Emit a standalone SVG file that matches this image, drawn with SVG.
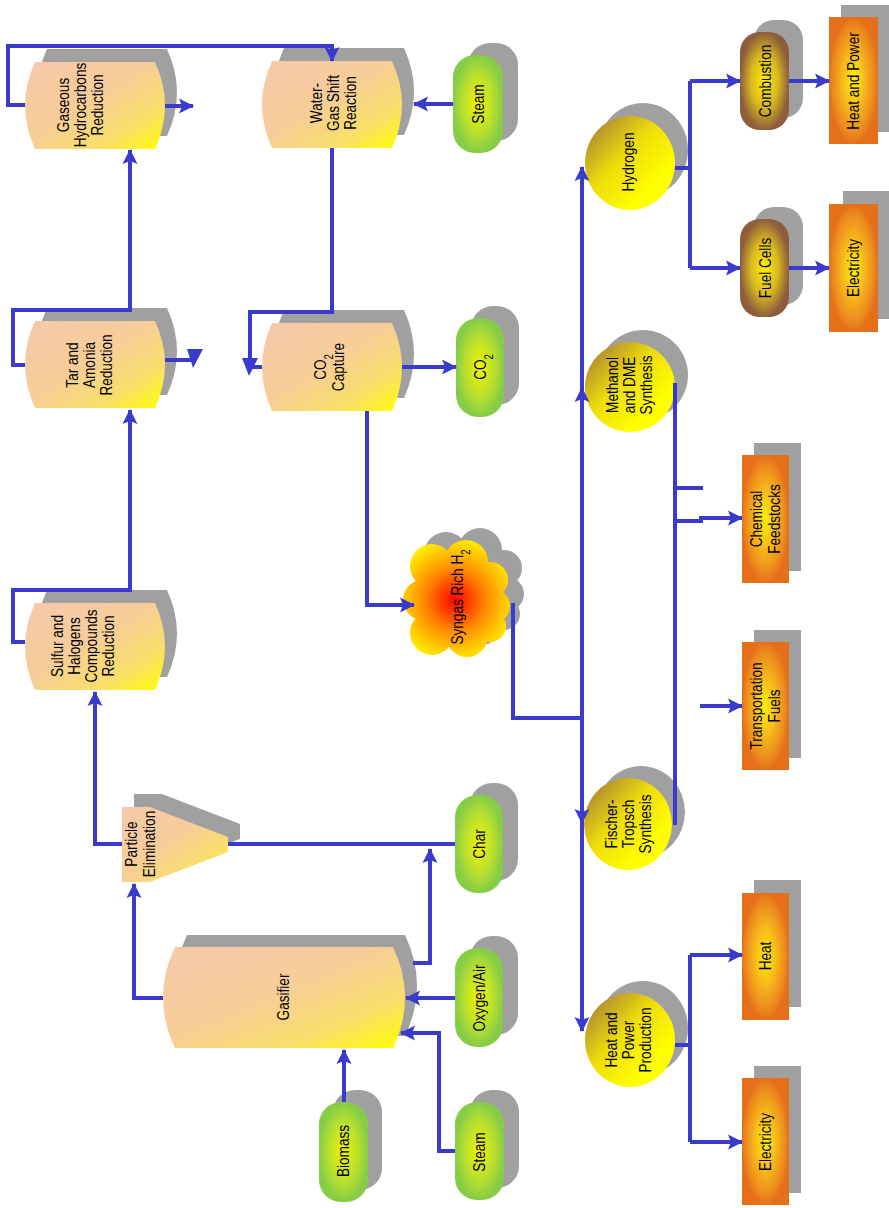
<svg xmlns="http://www.w3.org/2000/svg" width="889" height="1208" viewBox="0 0 889 1208">
  <defs>
    <linearGradient id="tankFill" x1="0" y1="0" x2="1" y2="1">
      <stop offset="0" stop-color="#f6c8ac"/>
      <stop offset="0.45" stop-color="#f7cd98"/>
      <stop offset="0.75" stop-color="#f9df6a"/>
      <stop offset="1" stop-color="#ffff00"/>
    </linearGradient>
    <radialGradient id="greenFill" cx="0.5" cy="0.5" r="0.5">
      <stop offset="0" stop-color="#f2f200"/>
      <stop offset="0.6" stop-color="#b9e02e"/>
      <stop offset="1" stop-color="#86cc46"/>
    </radialGradient>
    <radialGradient id="brownFill" cx="0.5" cy="0.5" r="0.5">
      <stop offset="0" stop-color="#fff000"/>
      <stop offset="0.55" stop-color="#d9b820"/>
      <stop offset="1" stop-color="#8e5e3c"/>
    </radialGradient>
    <radialGradient id="orangeFill" cx="0.5" cy="0.5" r="0.5">
      <stop offset="0" stop-color="#fff000"/>
      <stop offset="0.4" stop-color="#f8c01a"/>
      <stop offset="0.85" stop-color="#ec881e"/>
      <stop offset="1" stop-color="#e6701a"/>
    </radialGradient>
    <linearGradient id="ballFill" x1="0.1" y1="0.1" x2="0.75" y2="0.75">
      <stop offset="0" stop-color="#ae8832"/>
      <stop offset="0.5" stop-color="#eedc0a"/>
      <stop offset="1" stop-color="#ffff00"/>
    </linearGradient>
    <radialGradient id="cloudFill" gradientUnits="userSpaceOnUse" cx="455" cy="600" r="62">
      <stop offset="0" stop-color="#ff0000"/>
      <stop offset="0.5" stop-color="#ff8a00"/>
      <stop offset="1" stop-color="#ffee00"/>
    </radialGradient>
    <marker id="ah" markerUnits="userSpaceOnUse" markerWidth="16" markerHeight="16" viewBox="0 0 16 16" refX="14" refY="8" orient="auto">
      <path d="M0,0.5 L15,8 L0,15.5 L3,8 z" fill="#3a3acc"/>
    </marker>
    <style>
      .sh { fill: #a0a0a0; }
      .tank { fill: url(#tankFill); }
      .green { fill: url(#greenFill); }
      .brown { fill: url(#brownFill); }
      .orange { fill: url(#orangeFill); }
      .ball { fill: url(#ballFill); }
      .t { font-family: "Liberation Sans", Arial, sans-serif; font-size: 17px; fill: #000; text-anchor: middle; }
      .sub { font-size: 12px; }
      .c { fill: none; stroke: #3a3acc; stroke-width: 4; }
      .ca { fill: none; stroke: #3a3acc; stroke-width: 4; marker-end: url(#ah); }
      .hd { fill: #3a3acc; }
    </style>
  </defs>

  <rect width="889" height="1208" fill="#ffffff"/>

  <!-- process vessels -->
  <g id="gaseous-hydrocarbons-reduction">
    <path class="sh" transform="translate(12,-13)" d="M35,62 H155 Q175,105.5 155,149 H35 Q15,105.5 35,62 Z"/>
    <path class="tank" d="M35,62 H155 Q175,105.5 155,149 H35 Q15,105.5 35,62 Z"/>
    <text class="t" transform="translate(80,105) rotate(-90) scale(0.8,1)"><tspan x="0" y="-11.5">Gaseous</tspan><tspan x="0" y="6">Hydrocarbons</tspan><tspan x="0" y="23.5">Reduction</tspan></text>
  </g>

  <g id="water-gas-shift">
    <path class="sh" transform="translate(12,-13)" d="M272,61 H392 Q412,104.5 392,148 H272 Q252,104.5 272,61 Z"/>
    <path class="tank" d="M272,61 H392 Q412,104.5 392,148 H272 Q252,104.5 272,61 Z"/>
    <text class="t" transform="translate(333,103) rotate(-90) scale(0.8,1)"><tspan x="0" y="-11.5">Water-</tspan><tspan x="0" y="6">Gas Shift</tspan><tspan x="0" y="23.5">Reaction</tspan></text>
  </g>

  <g id="tar-amonia-reduction">
    <path class="sh" transform="translate(12,-13)" d="M35,321 H155 Q175,364.5 155,408 H35 Q15,364.5 35,321 Z"/>
    <path class="tank" d="M35,321 H155 Q175,364.5 155,408 H35 Q15,364.5 35,321 Z"/>
    <text class="t" transform="translate(89,365) rotate(-90) scale(0.8,1)"><tspan x="0" y="-11.5">Tar and</tspan><tspan x="0" y="6">Amonia</tspan><tspan x="0" y="23.5">Reduction</tspan></text>
  </g>

  <g id="co2-capture">
    <path class="sh" transform="translate(12,-13)" d="M272,323 H392 Q412,367 392,411 H272 Q252,367 272,323 Z"/>
    <path class="tank" d="M272,323 H392 Q412,367 392,411 H272 Q252,367 272,323 Z"/>
    <text class="t" transform="translate(329,367) rotate(-90) scale(0.8,1)"><tspan x="0" y="-3">CO<tspan class="sub" baseline-shift="sub">2</tspan></tspan><tspan x="0" y="14.5">Capture</tspan></text>
  </g>

  <g id="sulfur-halogens-reduction">
    <path class="sh" transform="translate(12,-13)" d="M35,603 H155 Q175,646.5 155,690 H35 Q15,646.5 35,603 Z"/>
    <path class="tank" d="M35,603 H155 Q175,646.5 155,690 H35 Q15,646.5 35,603 Z"/>
    <text class="t" transform="translate(83,646) rotate(-90) scale(0.8,1)"><tspan x="0" y="-20">Sulfur and</tspan><tspan x="0" y="-3">Halogens</tspan><tspan x="0" y="14">Compounds</tspan><tspan x="0" y="31">Reduction</tspan></text>
  </g>

  <g id="particle-elimination">
    <path class="sh" transform="translate(12,-13)" d="M122,807 H150 L228,837 V852 L150,882 H122 Z"/>
    <path class="tank" d="M122,807 H150 L228,837 V852 L150,882 H122 Z"/>
    <text class="t" transform="translate(140,844) rotate(-90) scale(0.8,1)"><tspan x="0" y="-3">Particle</tspan><tspan x="0" y="14.5">Elimination</tspan></text>
  </g>

  <g id="gasifier">
    <path class="sh" transform="translate(12,-12)" d="M175,947 H393 Q417,997.5 393,1048 H175 Q151,997.5 175,947 Z"/>
    <path class="tank" d="M175,947 H393 Q417,997.5 393,1048 H175 Q151,997.5 175,947 Z"/>
    <text class="t" transform="translate(283,997) rotate(-90) scale(0.8,1)"><tspan x="0" y="6">Gasifier</tspan></text>
  </g>

  <!-- feeds and side products -->
  <g id="steam-top">
    <rect class="sh" x="468" y="43" width="50" height="98" rx="22"/>
    <rect class="green" x="453" y="55" width="50" height="98" rx="22"/>
    <text class="t" transform="translate(478,104) rotate(-90) scale(0.8,1)"><tspan x="0" y="6">Steam</tspan></text>
  </g>

  <g id="co2">
    <rect class="sh" x="471" y="306" width="48" height="99" rx="22"/>
    <rect class="green" x="456" y="318" width="48" height="99" rx="22"/>
    <text class="t" transform="translate(480,367) rotate(-90) scale(0.8,1)"><tspan x="0" y="6">CO<tspan class="sub" baseline-shift="sub">2</tspan></tspan></text>
  </g>

  <g id="char">
    <rect class="sh" x="470" y="783" width="48" height="98" rx="22"/>
    <rect class="green" x="455" y="795" width="48" height="98" rx="22"/>
    <text class="t" transform="translate(479,844) rotate(-90) scale(0.8,1)"><tspan x="0" y="6">Char</tspan></text>
  </g>

  <g id="oxygen-air">
    <rect class="sh" x="470" y="936" width="48" height="99" rx="22"/>
    <rect class="green" x="455" y="948" width="48" height="99" rx="22"/>
    <text class="t" transform="translate(479,998) rotate(-90) scale(0.8,1)"><tspan x="0" y="6">Oxygen/Air</tspan></text>
  </g>

  <g id="biomass">
    <rect class="sh" x="333" y="1090" width="49" height="100" rx="22"/>
    <rect class="green" x="319" y="1102" width="49" height="100" rx="22"/>
    <text class="t" transform="translate(343,1151) rotate(-90) scale(0.8,1)"><tspan x="0" y="6">Biomass</tspan></text>
  </g>

  <g id="steam-bottom">
    <rect class="sh" x="470" y="1090" width="49" height="98" rx="22"/>
    <rect class="green" x="455" y="1102" width="49" height="98" rx="22"/>
    <text class="t" transform="translate(479,1152) rotate(-90) scale(0.8,1)"><tspan x="0" y="6">Steam</tspan></text>
  </g>

  <!-- syngas cloud: overlapping lobes sharing one radial fill -->
  <g id="syngas">
    <g class="sh" transform="translate(14,-12)">
      <circle cx="432" cy="566" r="22"/><circle cx="466" cy="562" r="22"/><circle cx="490" cy="580" r="18"/>
      <circle cx="423" cy="600" r="20"/><circle cx="493" cy="606" r="17"/><circle cx="432" cy="633" r="22"/>
      <circle cx="467" cy="636" r="21"/><circle cx="490" cy="626" r="16"/><circle cx="457" cy="600" r="46"/>
    </g>
    <g fill="url(#cloudFill)">
      <circle cx="432" cy="566" r="22"/><circle cx="466" cy="562" r="22"/><circle cx="490" cy="580" r="18"/>
      <circle cx="423" cy="600" r="20"/><circle cx="493" cy="606" r="17"/><circle cx="432" cy="633" r="22"/>
      <circle cx="467" cy="636" r="21"/><circle cx="490" cy="626" r="16"/><circle cx="457" cy="600" r="46"/>
    </g>
    <text class="t" transform="translate(457,597) rotate(-90) scale(0.8,1)"><tspan x="0" y="6">Syngas Rich H<tspan class="sub" baseline-shift="sub">2</tspan></tspan></text>
  </g>

  <!-- synthesis routes -->
  <g id="hydrogen">
    <ellipse class="sh" cx="643" cy="150" rx="45" ry="47"/>
    <ellipse class="ball" cx="630" cy="163" rx="45" ry="47"/>
    <text class="t" transform="translate(628,162) rotate(-90) scale(0.8,1)"><tspan x="0" y="6">Hydrogen</tspan></text>
  </g>

  <g id="methanol-dme">
    <ellipse class="sh" cx="643" cy="375" rx="45" ry="45"/>
    <ellipse class="ball" cx="630" cy="387" rx="45" ry="45"/>
    <text class="t" transform="translate(629,385) rotate(-90) scale(0.8,1)"><tspan x="0" y="-11.5">Methanol</tspan><tspan x="0" y="6">and DME</tspan><tspan x="0" y="23.5">Synthesis</tspan></text>
  </g>

  <g id="fischer-tropsch">
    <ellipse class="sh" cx="641" cy="812" rx="44" ry="46"/>
    <ellipse class="ball" cx="628" cy="824" rx="44" ry="46"/>
    <text class="t" transform="translate(628,824) rotate(-90) scale(0.8,1)"><tspan x="0" y="-11.5">Fischer-</tspan><tspan x="0" y="6">Tropsch</tspan><tspan x="0" y="23.5">Synthesis</tspan></text>
  </g>

  <g id="heat-power-production">
    <ellipse class="sh" cx="643" cy="1028" rx="45" ry="47"/>
    <ellipse class="ball" cx="630" cy="1040" rx="45" ry="47"/>
    <text class="t" transform="translate(628,1040) rotate(-90) scale(0.8,1)"><tspan x="0" y="-11.5">Heat and</tspan><tspan x="0" y="6">Power</tspan><tspan x="0" y="23.5">Production</tspan></text>
  </g>

  <g id="combustion">
    <rect class="sh" x="754" y="20" width="49" height="98" rx="20"/>
    <rect class="brown" x="740" y="32" width="49" height="98" rx="20"/>
    <text class="t" transform="translate(765,81) rotate(-90) scale(0.8,1)"><tspan x="0" y="6">Combustion</tspan></text>
  </g>

  <g id="fuel-cells">
    <rect class="sh" x="754" y="207" width="49" height="98" rx="20"/>
    <rect class="brown" x="740" y="219" width="49" height="98" rx="20"/>
    <text class="t" transform="translate(765,268) rotate(-90) scale(0.8,1)"><tspan x="0" y="6">Fuel Cells</tspan></text>
  </g>

  <!-- end products -->
  <g id="heat-and-power">
    <rect class="sh" x="841" y="5" width="49" height="127"/>
    <rect class="orange" x="829" y="17" width="49" height="127"/>
    <text class="t" transform="translate(853,81) rotate(-90) scale(0.8,1)"><tspan x="0" y="6">Heat and Power</tspan></text>
  </g>

  <g id="electricity-top">
    <rect class="sh" x="843" y="191" width="49" height="128"/>
    <rect class="orange" x="829" y="204" width="49" height="128"/>
    <text class="t" transform="translate(853,268) rotate(-90) scale(0.8,1)"><tspan x="0" y="6">Electricity</tspan></text>
  </g>

  <g id="chemical-feedstocks">
    <rect class="sh" x="754" y="443" width="47" height="128"/>
    <rect class="orange" x="742" y="455" width="47" height="128"/>
    <text class="t" transform="translate(765,519) rotate(-90) scale(0.8,1)"><tspan x="0" y="-3">Chemical</tspan><tspan x="0" y="14.5">Feedstocks</tspan></text>
  </g>

  <g id="transportation-fuels">
    <rect class="sh" x="754" y="630" width="47" height="128"/>
    <rect class="orange" x="742" y="642" width="47" height="128"/>
    <text class="t" transform="translate(765,706) rotate(-90) scale(0.8,1)"><tspan x="0" y="-3">Transportation</tspan><tspan x="0" y="14.5">Fuels</tspan></text>
  </g>

  <g id="heat">
    <rect class="sh" x="754" y="880" width="47" height="127"/>
    <rect class="orange" x="742" y="893" width="47" height="127"/>
    <text class="t" transform="translate(765,956) rotate(-90) scale(0.8,1)"><tspan x="0" y="6">Heat</tspan></text>
  </g>

  <g id="electricity-bottom">
    <rect class="sh" x="754" y="1066" width="47" height="127"/>
    <rect class="orange" x="742" y="1078" width="47" height="127"/>
    <text class="t" transform="translate(765,1142) rotate(-90) scale(0.8,1)"><tspan x="0" y="6">Electricity</tspan></text>
  </g>

  <!-- flow lines -->
  <g id="connectors">
    <path class="ca" d="M25,105 H8 V46 H332 V61"/>
    <path class="ca" d="M165,106 H193"/>
    <path class="ca" d="M25,365 H13 V310 H130 V150"/>
    <path class="c" d="M165,360 H193"/>
    <polygon class="hd" points="187,349 203,349 193,368"/>
    <path class="ca" d="M25,642 H13 V590 H130 V410"/>
    <path class="ca" d="M122,844 H95 V692"/>
    <path class="ca" d="M163,998 H134 V884"/>
    <path class="c" d="M228,844 H455"/>
    <path class="ca" d="M413,963 H430 V849"/>
    <path class="ca" d="M455,998 H406"/>
    <path class="ca" d="M455,1151 H439 V1033 H401"/>
    <path class="ca" d="M344,1102 V1050"/>
    <path class="ca" d="M453,104 H414"/>
    <path class="c" d="M332,148 V312 H250 V367 H262"/>
    <polygon class="hd" points="242,358 258,358 249,376"/>
    <path class="ca" d="M402,367 H456"/>
    <path class="ca" d="M367,411 V605 H414"/>
    <path class="c" d="M513,603 V718 H582"/>
    <path class="ca" d="M582,720 V388"/>
    <path class="ca" d="M582,400 V167"/>
    <path class="ca" d="M582,716 V823"/>
    <path class="ca" d="M582,810 V1031"/>
    <path class="c" d="M675,383 V825"/>
    <path class="c" d="M675,488 H703"/>
    <path class="ca" d="M675,521 H701 V518 H742"/>
    <path class="ca" d="M700,706 H742"/>
    <path class="c" d="M675,168 H690"/>
    <path class="c" d="M690,81 V268"/>
    <path class="ca" d="M690,81 H740"/>
    <path class="ca" d="M690,268 H740"/>
    <path class="ca" d="M789,81 H829"/>
    <path class="ca" d="M789,268 H829"/>
    <path class="c" d="M675,1045 H690"/>
    <path class="c" d="M690,955 V1142"/>
    <path class="ca" d="M690,955 H742"/>
    <path class="ca" d="M690,1142 H742"/>
  </g>
</svg>
